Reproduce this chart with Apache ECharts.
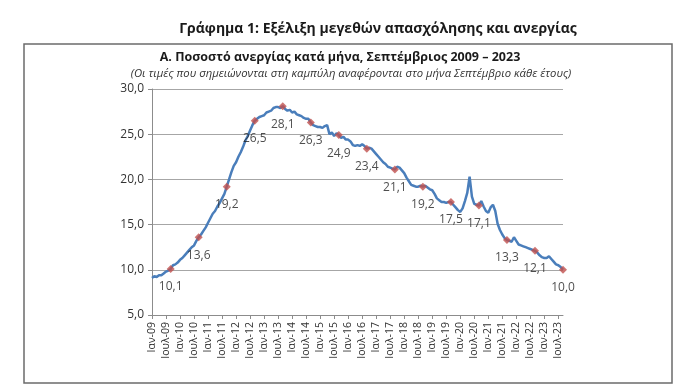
<!DOCTYPE html>
<html>
<head>
<meta charset="utf-8">
<script src="https://cdn.jsdelivr.net/npm/echarts@6/dist/echarts.min.js"></script>
<style>
html,body{margin:0;padding:0;background:#fff;}
#chart{width:700px;height:387px;}
</style>
</head>
<body>
<div id="chart"></div>
<script>
// Monthly unemployment rate (%), Jan 2009 – Sep 2023
const y2009 = [9.1, 9.3, 9.2, 9.4, 9.4, 9.6, 9.8, 9.9, 10.1, 10.5, 10.6, 10.8];
const y2010 = [11.1, 11.3, 11.6, 11.9, 12.2, 12.5, 12.7, 13.2, 13.6, 13.9, 14.3, 14.7];
const y2011 = [15.2, 15.7, 16.2, 16.5, 17.0, 17.4, 17.9, 18.4, 19.2, 20.0, 20.8, 21.5];
const y2012 = [21.9, 22.5, 23.0, 23.6, 24.3, 24.8, 25.4, 26.0, 26.5, 26.7, 26.9, 27.0];
const y2013 = [27.1, 27.4, 27.5, 27.6, 27.9, 28.0, 28.0, 27.9, 28.1, 27.8, 27.6, 27.7];
const y2014 = [27.4, 27.5, 27.2, 27.1, 27.0, 26.8, 26.7, 26.7, 26.3, 26.0, 25.9, 25.8];
const y2015 = [25.8, 25.7, 25.9, 26.0, 25.0, 25.2, 24.8, 25.1, 24.9, 24.6, 24.7, 24.4];
const y2016 = [24.4, 24.2, 23.8, 23.7, 23.8, 23.7, 23.9, 23.7, 23.4, 23.5, 23.4, 23.1];
const y2017 = [22.8, 22.5, 22.2, 21.9, 21.7, 21.4, 21.3, 21.2, 21.1, 21.4, 21.3, 21.0];
const y2018 = [20.7, 20.2, 19.8, 19.4, 19.3, 19.2, 19.2, 19.3, 19.2, 19.3, 19.1, 18.9];
const y2019 = [18.8, 18.4, 17.9, 17.7, 17.5, 17.5, 17.4, 17.5, 17.5, 17.2, 16.9, 16.6];
const y2020 = [16.4, 16.8, 17.6, 18.5, 20.3, 18.1, 17.3, 17.2, 17.1, 17.6, 17.0, 16.5];
const y2021 = [16.3, 16.9, 17.2, 16.5, 15.1, 14.4, 13.9, 13.5, 13.3, 13.2, 13.1, 13.6];
const y2022 = [13.2, 12.8, 12.7, 12.6, 12.5, 12.4, 12.3, 12.2, 12.1, 11.9, 11.6, 11.4];
const y2023 = [11.3, 11.3, 11.5, 11.2, 10.9, 10.6, 10.5, 10.3, 10.0];

const years = ['09','10','11','12','13','14','15','16','17','18','19','20','21','22','23'];
const monthNames = ['Ιαν','Φεβ','Μαρ','Απρ','Μαϊ','Ιουν','Ιουλ','Αυγ','Σεπ','Οκτ','Νοε','Δεκ'];
const yearData = [y2009,y2010,y2011,y2012,y2013,y2014,y2015,y2016,y2017,y2018,y2019,y2020,y2021,y2022,y2023];

const categories = [];
const values = [];
yearData.forEach((arr, yi) => {
  arr.forEach((v, mi) => {
    categories.push(monthNames[mi] + '-' + years[yi]);
    values.push(v);
  });
});
// September points (marked)
const septPoints = [];
categories.forEach((c, i) => { if (c.startsWith('Σεπ')) septPoints.push([c, values[i]]); });

const fmt = v => v.toFixed(1).replace('.', ',');
const FONT = '"Open Sans", "Noto Sans", sans-serif';

const chart = echarts.init(document.getElementById('chart'), null, {renderer: 'canvas'});
chart.setOption({
  animation: false,
  backgroundColor: '#ffffff',
  textStyle: {fontFamily: FONT},
  graphic: [{
    type: 'rect',
    shape: {x: 24, y: 44, width: 648, height: 339},
    style: {fill: 'none', stroke: '#6b6b6b', lineWidth: 1.5},
    silent: true
  }],
  title: [
    {text: 'Γράφημα 1: Εξέλιξη μεγεθών απασχόλησης και ανεργίας', left: 373, top: 17, textAlign: 'center',
     textStyle: {fontFamily: FONT, fontSize: 14, fontWeight: 'bold', color: '#1a1a1a'}},
    {text: 'Α. Ποσοστό ανεργίας κατά μήνα, Σεπτέμβριος 2009 – 2023', left: 335, top: 46, textAlign: 'center',
     textStyle: {fontFamily: FONT, fontSize: 12.5, fontWeight: 'bold', color: '#1a1a1a'}},
    {text: '(Οι τιμές που σημειώνονται στη καμπύλη αναφέρονται στο μήνα Σεπτέμβριο κάθε έτους)', left: 346, top: 63, textAlign: 'center',
     textStyle: {fontFamily: FONT, fontSize: 11.3, fontStyle: 'italic', fontWeight: 'normal', color: '#333'}}
  ],
  grid: {left: 152, right: 137, top: 89, bottom: 72, containLabel: false},
  xAxis: {
    type: 'category',
    data: categories,
    boundaryGap: false,
    axisLine: {lineStyle: {color: '#8c8c8c', width: 1}},
    axisTick: {show: true, interval: 5, length: 4, lineStyle: {color: '#8c8c8c'}},
    axisLabel: {interval: 5, rotate: 90, fontSize: 10.5, color: '#333', margin: 7, fontFamily: FONT},
    splitLine: {show: false}
  },
  yAxis: {
    type: 'value',
    min: 5, max: 30, interval: 5,
    axisLine: {show: true, lineStyle: {color: '#8c8c8c', width: 1}},
    axisTick: {show: true, length: 4, lineStyle: {color: '#8c8c8c'}},
    axisLabel: {formatter: v => fmt(v), fontSize: 12, color: '#333', margin: 8, fontFamily: FONT},
    splitLine: {show: true, lineStyle: {color: '#a6a6a6', width: 1}}
  },
  series: [
    {
      type: 'line',
      data: values,
      showSymbol: false,
      symbol: 'none',
      lineStyle: {color: '#4a7ebb', width: 2.5},
      z: 2
    },
    {
      type: 'scatter',
      data: septPoints,
      symbol: 'diamond',
      symbolSize: 8,
      itemStyle: {color: '#c0504d'},
      label: {
        show: true, position: 'bottom', distance: 8,
        formatter: p => fmt(p.value[1]),
        fontSize: 12, color: '#222', fontFamily: FONT
      },
      z: 3
    }
  ]
});
</script>
</body>
</html>
